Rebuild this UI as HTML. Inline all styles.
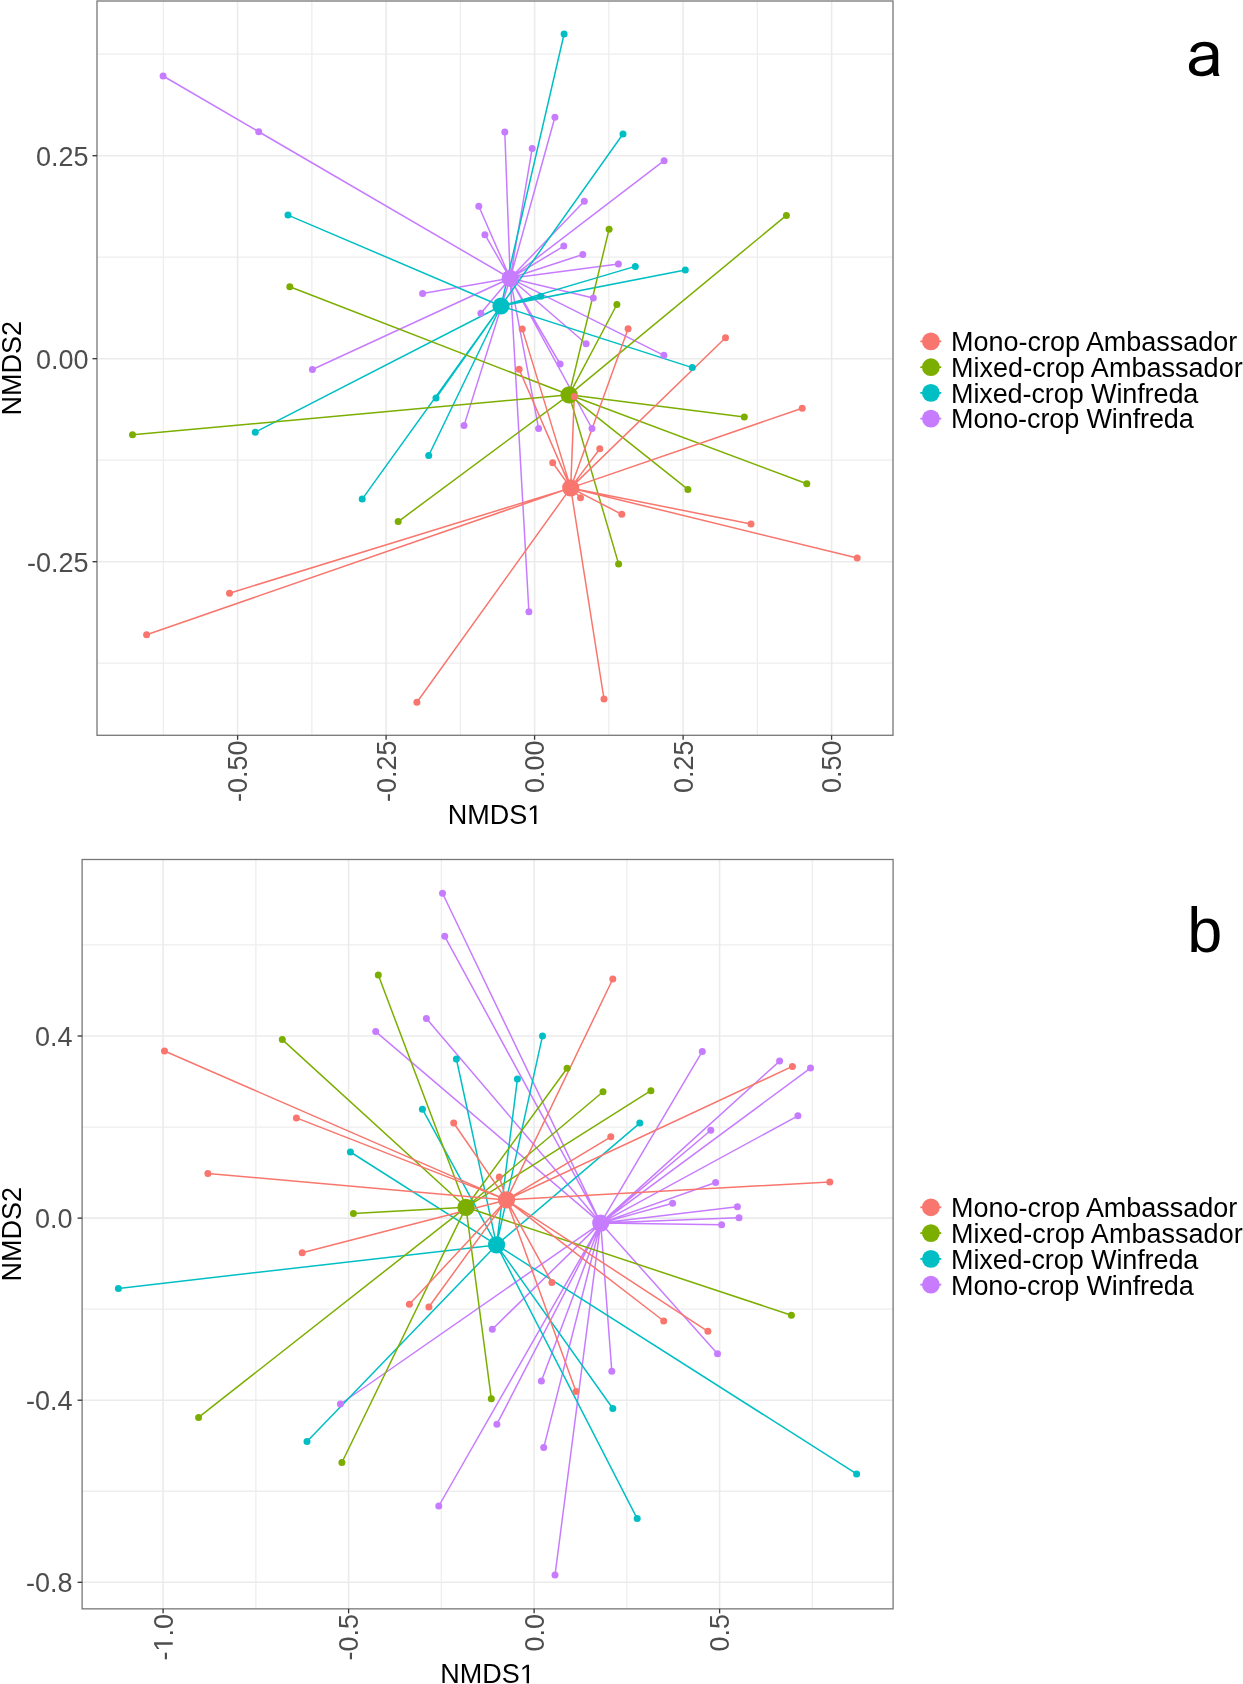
<!DOCTYPE html>
<html><head><meta charset="utf-8"><style>
html,body{margin:0;padding:0;background:#fff;}
svg{display:block;will-change:transform;}
</style></head><body>
<svg width="1243" height="1684" viewBox="0 0 1243 1684">
<rect width="1243" height="1684" fill="#fff"/>
<rect x="97" y="1" width="796" height="734.3" fill="#fff"/>
<line x1="163.35" y1="1" x2="163.35" y2="735.3" stroke="#EEEEEE" stroke-width="1.3"/>
<line x1="311.85" y1="1" x2="311.85" y2="735.3" stroke="#EEEEEE" stroke-width="1.3"/>
<line x1="460.35" y1="1" x2="460.35" y2="735.3" stroke="#EEEEEE" stroke-width="1.3"/>
<line x1="608.85" y1="1" x2="608.85" y2="735.3" stroke="#EEEEEE" stroke-width="1.3"/>
<line x1="757.35" y1="1" x2="757.35" y2="735.3" stroke="#EEEEEE" stroke-width="1.3"/>
<line x1="97" y1="54.2" x2="893" y2="54.2" stroke="#EEEEEE" stroke-width="1.3"/>
<line x1="97" y1="257.2" x2="893" y2="257.2" stroke="#EEEEEE" stroke-width="1.3"/>
<line x1="97" y1="460.2" x2="893" y2="460.2" stroke="#EEEEEE" stroke-width="1.3"/>
<line x1="97" y1="663.2" x2="893" y2="663.2" stroke="#EEEEEE" stroke-width="1.3"/>
<line x1="237.6" y1="1" x2="237.6" y2="735.3" stroke="#EBEBEB" stroke-width="1.6"/>
<line x1="386.1" y1="1" x2="386.1" y2="735.3" stroke="#EBEBEB" stroke-width="1.6"/>
<line x1="534.6" y1="1" x2="534.6" y2="735.3" stroke="#EBEBEB" stroke-width="1.6"/>
<line x1="683.1" y1="1" x2="683.1" y2="735.3" stroke="#EBEBEB" stroke-width="1.6"/>
<line x1="831.6" y1="1" x2="831.6" y2="735.3" stroke="#EBEBEB" stroke-width="1.6"/>
<line x1="97" y1="155.7" x2="893" y2="155.7" stroke="#EBEBEB" stroke-width="1.6"/>
<line x1="97" y1="358.7" x2="893" y2="358.7" stroke="#EBEBEB" stroke-width="1.6"/>
<line x1="97" y1="561.7" x2="893" y2="561.7" stroke="#EBEBEB" stroke-width="1.6"/>
<path d="M510.2 278.3L163.1 76M510.2 278.3L258.7 131.8M510.2 278.3L504.8 132M510.2 278.3L532.2 148.4M510.2 278.3L554.9 117.2M510.2 278.3L478.8 206.2M510.2 278.3L484.9 234.7M510.2 278.3L584.3 201.3M510.2 278.3L563.8 246.1M510.2 278.3L582.8 254.5M510.2 278.3L618.4 264M510.2 278.3L664.1 160.7M510.2 278.3L422.6 293.5M510.2 278.3L480.9 313.3M510.2 278.3L312.4 369.5M510.2 278.3L593.3 297.9M510.2 278.3L586.1 343.8M510.2 278.3L560.1 364M510.2 278.3L663.9 355.3M510.2 278.3L464 425.6M510.2 278.3L538.6 428.4M510.2 278.3L592 428.5M510.2 278.3L528.9 611.7" stroke="#C77CFF" stroke-width="1.5" fill="none"/>
<path d="M501 306L288 215.1M501 306L255.3 432.2M501 306L436 398.1M501 306L428.7 455.5M501 306L362.2 499.1M501 306L564.1 34M501 306L623 134M501 306L635.3 266.4M501 306L685.3 270.1M501 306L540.8 296.2M501 306L692.3 367.6" stroke="#00BFC4" stroke-width="1.5" fill="none"/>
<path d="M569.1 394.8L609.1 229.2M569.1 394.8L786.4 215.4M569.1 394.8L289.8 286.8M569.1 394.8L616.9 304.5M569.1 394.8L132.5 434.8M569.1 394.8L744.3 416.9M569.1 394.8L806.8 483.8M569.1 394.8L687.9 489.4M569.1 394.8L398.2 521.6M569.1 394.8L618.6 563.9" stroke="#7CAE00" stroke-width="1.5" fill="none"/>
<path d="M570.7 487.9L522.2 328.9M570.7 487.9L628.1 328.8M570.7 487.9L519.1 369.2M570.7 487.9L574.3 396.4M570.7 487.9L725.5 337.8M570.7 487.9L802.2 408.2M570.7 487.9L599.8 448.8M570.7 487.9L552.7 462.8M570.7 487.9L580.5 497.7M570.7 487.9L621.8 514.3M570.7 487.9L751 524M570.7 487.9L857.2 558M570.7 487.9L229.5 593.2M570.7 487.9L146.6 634.7M570.7 487.9L416.9 702.3M570.7 487.9L604 699" stroke="#F8766D" stroke-width="1.5" fill="none"/>
<circle cx="510.2" cy="278.3" r="8.6" fill="#C77CFF"/>
<circle cx="163.1" cy="76" r="3.5" fill="#C77CFF"/>
<circle cx="258.7" cy="131.8" r="3.5" fill="#C77CFF"/>
<circle cx="504.8" cy="132" r="3.5" fill="#C77CFF"/>
<circle cx="532.2" cy="148.4" r="3.5" fill="#C77CFF"/>
<circle cx="554.9" cy="117.2" r="3.5" fill="#C77CFF"/>
<circle cx="478.8" cy="206.2" r="3.5" fill="#C77CFF"/>
<circle cx="484.9" cy="234.7" r="3.5" fill="#C77CFF"/>
<circle cx="584.3" cy="201.3" r="3.5" fill="#C77CFF"/>
<circle cx="563.8" cy="246.1" r="3.5" fill="#C77CFF"/>
<circle cx="582.8" cy="254.5" r="3.5" fill="#C77CFF"/>
<circle cx="618.4" cy="264" r="3.5" fill="#C77CFF"/>
<circle cx="664.1" cy="160.7" r="3.5" fill="#C77CFF"/>
<circle cx="422.6" cy="293.5" r="3.5" fill="#C77CFF"/>
<circle cx="480.9" cy="313.3" r="3.5" fill="#C77CFF"/>
<circle cx="312.4" cy="369.5" r="3.5" fill="#C77CFF"/>
<circle cx="593.3" cy="297.9" r="3.5" fill="#C77CFF"/>
<circle cx="586.1" cy="343.8" r="3.5" fill="#C77CFF"/>
<circle cx="560.1" cy="364" r="3.5" fill="#C77CFF"/>
<circle cx="663.9" cy="355.3" r="3.5" fill="#C77CFF"/>
<circle cx="464" cy="425.6" r="3.5" fill="#C77CFF"/>
<circle cx="538.6" cy="428.4" r="3.5" fill="#C77CFF"/>
<circle cx="592" cy="428.5" r="3.5" fill="#C77CFF"/>
<circle cx="528.9" cy="611.7" r="3.5" fill="#C77CFF"/>
<circle cx="501" cy="306" r="8.6" fill="#00BFC4"/>
<circle cx="288" cy="215.1" r="3.5" fill="#00BFC4"/>
<circle cx="255.3" cy="432.2" r="3.5" fill="#00BFC4"/>
<circle cx="436" cy="398.1" r="3.5" fill="#00BFC4"/>
<circle cx="428.7" cy="455.5" r="3.5" fill="#00BFC4"/>
<circle cx="362.2" cy="499.1" r="3.5" fill="#00BFC4"/>
<circle cx="564.1" cy="34" r="3.5" fill="#00BFC4"/>
<circle cx="623" cy="134" r="3.5" fill="#00BFC4"/>
<circle cx="635.3" cy="266.4" r="3.5" fill="#00BFC4"/>
<circle cx="685.3" cy="270.1" r="3.5" fill="#00BFC4"/>
<circle cx="540.8" cy="296.2" r="3.5" fill="#00BFC4"/>
<circle cx="692.3" cy="367.6" r="3.5" fill="#00BFC4"/>
<circle cx="569.1" cy="394.8" r="8.6" fill="#7CAE00"/>
<circle cx="609.1" cy="229.2" r="3.5" fill="#7CAE00"/>
<circle cx="786.4" cy="215.4" r="3.5" fill="#7CAE00"/>
<circle cx="289.8" cy="286.8" r="3.5" fill="#7CAE00"/>
<circle cx="616.9" cy="304.5" r="3.5" fill="#7CAE00"/>
<circle cx="132.5" cy="434.8" r="3.5" fill="#7CAE00"/>
<circle cx="744.3" cy="416.9" r="3.5" fill="#7CAE00"/>
<circle cx="806.8" cy="483.8" r="3.5" fill="#7CAE00"/>
<circle cx="687.9" cy="489.4" r="3.5" fill="#7CAE00"/>
<circle cx="398.2" cy="521.6" r="3.5" fill="#7CAE00"/>
<circle cx="618.6" cy="563.9" r="3.5" fill="#7CAE00"/>
<circle cx="570.7" cy="487.9" r="8.6" fill="#F8766D"/>
<circle cx="522.2" cy="328.9" r="3.5" fill="#F8766D"/>
<circle cx="628.1" cy="328.8" r="3.5" fill="#F8766D"/>
<circle cx="519.1" cy="369.2" r="3.5" fill="#F8766D"/>
<circle cx="574.3" cy="396.4" r="3.5" fill="#F8766D"/>
<circle cx="725.5" cy="337.8" r="3.5" fill="#F8766D"/>
<circle cx="802.2" cy="408.2" r="3.5" fill="#F8766D"/>
<circle cx="599.8" cy="448.8" r="3.5" fill="#F8766D"/>
<circle cx="552.7" cy="462.8" r="3.5" fill="#F8766D"/>
<circle cx="580.5" cy="497.7" r="3.5" fill="#F8766D"/>
<circle cx="621.8" cy="514.3" r="3.5" fill="#F8766D"/>
<circle cx="751" cy="524" r="3.5" fill="#F8766D"/>
<circle cx="857.2" cy="558" r="3.5" fill="#F8766D"/>
<circle cx="229.5" cy="593.2" r="3.5" fill="#F8766D"/>
<circle cx="146.6" cy="634.7" r="3.5" fill="#F8766D"/>
<circle cx="416.9" cy="702.3" r="3.5" fill="#F8766D"/>
<circle cx="604" cy="699" r="3.5" fill="#F8766D"/>
<rect x="97" y="1" width="796" height="734.3" fill="none" stroke="#777" stroke-width="1.3"/>
<line x1="237.6" y1="735.3" x2="237.6" y2="739.8" stroke="#333" stroke-width="1.3"/>
<line x1="386.1" y1="735.3" x2="386.1" y2="739.8" stroke="#333" stroke-width="1.3"/>
<line x1="534.6" y1="735.3" x2="534.6" y2="739.8" stroke="#333" stroke-width="1.3"/>
<line x1="683.1" y1="735.3" x2="683.1" y2="739.8" stroke="#333" stroke-width="1.3"/>
<line x1="831.6" y1="735.3" x2="831.6" y2="739.8" stroke="#333" stroke-width="1.3"/>
<line x1="92.5" y1="155.7" x2="97" y2="155.7" stroke="#333" stroke-width="1.3"/>
<line x1="92.5" y1="358.7" x2="97" y2="358.7" stroke="#333" stroke-width="1.3"/>
<line x1="92.5" y1="561.7" x2="97" y2="561.7" stroke="#333" stroke-width="1.3"/>
<text x="88.6" y="165.8" text-anchor="end" font-size="27" fill="#4D4D4D" font-family="Liberation Sans, sans-serif">0.25</text>
<text x="88.6" y="368.8" text-anchor="end" font-size="27" fill="#4D4D4D" font-family="Liberation Sans, sans-serif">0.00</text>
<text x="88.6" y="571.8" text-anchor="end" font-size="27" fill="#4D4D4D" font-family="Liberation Sans, sans-serif">-0.25</text>
<g transform="translate(247.2,740.5) rotate(-90)"><text text-anchor="end" font-size="27" fill="#4D4D4D" font-family="Liberation Sans, sans-serif">-0.50</text></g>
<g transform="translate(395.7,740.5) rotate(-90)"><text text-anchor="end" font-size="27" fill="#4D4D4D" font-family="Liberation Sans, sans-serif">-0.25</text></g>
<g transform="translate(544.2,740.5) rotate(-90)"><text text-anchor="end" font-size="27" fill="#4D4D4D" font-family="Liberation Sans, sans-serif">0.00</text></g>
<g transform="translate(692.7,740.5) rotate(-90)"><text text-anchor="end" font-size="27" fill="#4D4D4D" font-family="Liberation Sans, sans-serif">0.25</text></g>
<g transform="translate(841.2,740.5) rotate(-90)"><text text-anchor="end" font-size="27" fill="#4D4D4D" font-family="Liberation Sans, sans-serif">0.50</text></g>
<text x="447.74" y="824.1" font-size="27" fill="#000" font-family="Liberation Sans, sans-serif">NMDS</text>
<path transform="translate(527.24,824.1) scale(0.013184,-0.013184)" d="M515 0L515 1237L197 1010L197 1180L530 1409L696 1409L696 0Z" fill="#000"/>
<text transform="translate(20.6,368.15) rotate(-90)" text-anchor="middle" font-size="27" fill="#000" font-family="Liberation Sans, sans-serif">NMDS2</text>
<rect x="82.1" y="859.5" width="811" height="749.35" fill="#fff"/>
<line x1="255.85" y1="859.5" x2="255.85" y2="1608.85" stroke="#EEEEEE" stroke-width="1.3"/>
<line x1="441.35" y1="859.5" x2="441.35" y2="1608.85" stroke="#EEEEEE" stroke-width="1.3"/>
<line x1="626.85" y1="859.5" x2="626.85" y2="1608.85" stroke="#EEEEEE" stroke-width="1.3"/>
<line x1="812.35" y1="859.5" x2="812.35" y2="1608.85" stroke="#EEEEEE" stroke-width="1.3"/>
<line x1="82.1" y1="944.95" x2="893.1" y2="944.95" stroke="#EEEEEE" stroke-width="1.3"/>
<line x1="82.1" y1="1127.05" x2="893.1" y2="1127.05" stroke="#EEEEEE" stroke-width="1.3"/>
<line x1="82.1" y1="1309.15" x2="893.1" y2="1309.15" stroke="#EEEEEE" stroke-width="1.3"/>
<line x1="82.1" y1="1491.25" x2="893.1" y2="1491.25" stroke="#EEEEEE" stroke-width="1.3"/>
<line x1="163.1" y1="859.5" x2="163.1" y2="1608.85" stroke="#EBEBEB" stroke-width="1.6"/>
<line x1="348.6" y1="859.5" x2="348.6" y2="1608.85" stroke="#EBEBEB" stroke-width="1.6"/>
<line x1="534.1" y1="859.5" x2="534.1" y2="1608.85" stroke="#EBEBEB" stroke-width="1.6"/>
<line x1="719.6" y1="859.5" x2="719.6" y2="1608.85" stroke="#EBEBEB" stroke-width="1.6"/>
<line x1="82.1" y1="1036" x2="893.1" y2="1036" stroke="#EBEBEB" stroke-width="1.6"/>
<line x1="82.1" y1="1218.1" x2="893.1" y2="1218.1" stroke="#EBEBEB" stroke-width="1.6"/>
<line x1="82.1" y1="1400.2" x2="893.1" y2="1400.2" stroke="#EBEBEB" stroke-width="1.6"/>
<line x1="82.1" y1="1582.3" x2="893.1" y2="1582.3" stroke="#EBEBEB" stroke-width="1.6"/>
<path d="M600.7 1223.1L442.5 893.3M600.7 1223.1L444.7 936.3M600.7 1223.1L426.4 1018.6M600.7 1223.1L375.7 1031.6M600.7 1223.1L702.3 1051.4M600.7 1223.1L779.6 1061.1M600.7 1223.1L810.5 1068.1M600.7 1223.1L710.8 1130.3M600.7 1223.1L797.9 1115.8M600.7 1223.1L715.6 1182.5M600.7 1223.1L672.6 1203.2M600.7 1223.1L737.4 1206.7M600.7 1223.1L739 1217.7M600.7 1223.1L721.6 1224.8M600.7 1223.1L717.5 1353.8M600.7 1223.1L611.8 1371.3M600.7 1223.1L340.4 1404M600.7 1223.1L492.3 1329.2M600.7 1223.1L541.4 1381M600.7 1223.1L496.9 1424.2M600.7 1223.1L543.7 1447.6M600.7 1223.1L438.8 1506M600.7 1223.1L555 1575.1" stroke="#C77CFF" stroke-width="1.5" fill="none"/>
<path d="M496.55 1244.9L118.4 1288.4M496.55 1244.9L350.4 1152M496.55 1244.9L422.4 1109.2M496.55 1244.9L456.4 1059M496.55 1244.9L517.4 1079.1M496.55 1244.9L542.5 1035.9M496.55 1244.9L639.8 1123.1M496.55 1244.9L307 1441.5M496.55 1244.9L612.8 1408.5M496.55 1244.9L637.2 1518.6M496.55 1244.9L856.6 1473.9" stroke="#00BFC4" stroke-width="1.5" fill="none"/>
<path d="M465.95 1207.3L282.3 1039.6M465.95 1207.3L378.3 975.1M465.95 1207.3L567.1 1068.2M465.95 1207.3L603 1091.8M465.95 1207.3L650.9 1090.7M465.95 1207.3L353.4 1213.5M465.95 1207.3L791.4 1315.2M465.95 1207.3L198.6 1417.4M465.95 1207.3L341.9 1462.5M465.95 1207.3L491.3 1398.7" stroke="#7CAE00" stroke-width="1.5" fill="none"/>
<path d="M506.5 1199.9L164.5 1051M506.5 1199.9L296.4 1117.9M506.5 1199.9L207.9 1173.4M506.5 1199.9L302.2 1252.7M506.5 1199.9L453.7 1123M506.5 1199.9L499.3 1177M506.5 1199.9L612.8 979M506.5 1199.9L792.4 1066.4M506.5 1199.9L610.8 1136.8M506.5 1199.9L829.8 1181.9M506.5 1199.9L663.7 1321M506.5 1199.9L707.9 1331.3M506.5 1199.9L551.9 1282.6M506.5 1199.9L409.4 1304.3M506.5 1199.9L428.9 1307M506.5 1199.9L576 1391.5" stroke="#F8766D" stroke-width="1.5" fill="none"/>
<circle cx="600.7" cy="1223.1" r="8.6" fill="#C77CFF"/>
<circle cx="442.5" cy="893.3" r="3.5" fill="#C77CFF"/>
<circle cx="444.7" cy="936.3" r="3.5" fill="#C77CFF"/>
<circle cx="426.4" cy="1018.6" r="3.5" fill="#C77CFF"/>
<circle cx="375.7" cy="1031.6" r="3.5" fill="#C77CFF"/>
<circle cx="702.3" cy="1051.4" r="3.5" fill="#C77CFF"/>
<circle cx="779.6" cy="1061.1" r="3.5" fill="#C77CFF"/>
<circle cx="810.5" cy="1068.1" r="3.5" fill="#C77CFF"/>
<circle cx="710.8" cy="1130.3" r="3.5" fill="#C77CFF"/>
<circle cx="797.9" cy="1115.8" r="3.5" fill="#C77CFF"/>
<circle cx="715.6" cy="1182.5" r="3.5" fill="#C77CFF"/>
<circle cx="672.6" cy="1203.2" r="3.5" fill="#C77CFF"/>
<circle cx="737.4" cy="1206.7" r="3.5" fill="#C77CFF"/>
<circle cx="739" cy="1217.7" r="3.5" fill="#C77CFF"/>
<circle cx="721.6" cy="1224.8" r="3.5" fill="#C77CFF"/>
<circle cx="717.5" cy="1353.8" r="3.5" fill="#C77CFF"/>
<circle cx="611.8" cy="1371.3" r="3.5" fill="#C77CFF"/>
<circle cx="340.4" cy="1404" r="3.5" fill="#C77CFF"/>
<circle cx="492.3" cy="1329.2" r="3.5" fill="#C77CFF"/>
<circle cx="541.4" cy="1381" r="3.5" fill="#C77CFF"/>
<circle cx="496.9" cy="1424.2" r="3.5" fill="#C77CFF"/>
<circle cx="543.7" cy="1447.6" r="3.5" fill="#C77CFF"/>
<circle cx="438.8" cy="1506" r="3.5" fill="#C77CFF"/>
<circle cx="555" cy="1575.1" r="3.5" fill="#C77CFF"/>
<circle cx="496.55" cy="1244.9" r="8.6" fill="#00BFC4"/>
<circle cx="118.4" cy="1288.4" r="3.5" fill="#00BFC4"/>
<circle cx="350.4" cy="1152" r="3.5" fill="#00BFC4"/>
<circle cx="422.4" cy="1109.2" r="3.5" fill="#00BFC4"/>
<circle cx="456.4" cy="1059" r="3.5" fill="#00BFC4"/>
<circle cx="517.4" cy="1079.1" r="3.5" fill="#00BFC4"/>
<circle cx="542.5" cy="1035.9" r="3.5" fill="#00BFC4"/>
<circle cx="639.8" cy="1123.1" r="3.5" fill="#00BFC4"/>
<circle cx="307" cy="1441.5" r="3.5" fill="#00BFC4"/>
<circle cx="612.8" cy="1408.5" r="3.5" fill="#00BFC4"/>
<circle cx="637.2" cy="1518.6" r="3.5" fill="#00BFC4"/>
<circle cx="856.6" cy="1473.9" r="3.5" fill="#00BFC4"/>
<circle cx="465.95" cy="1207.3" r="8.6" fill="#7CAE00"/>
<circle cx="282.3" cy="1039.6" r="3.5" fill="#7CAE00"/>
<circle cx="378.3" cy="975.1" r="3.5" fill="#7CAE00"/>
<circle cx="567.1" cy="1068.2" r="3.5" fill="#7CAE00"/>
<circle cx="603" cy="1091.8" r="3.5" fill="#7CAE00"/>
<circle cx="650.9" cy="1090.7" r="3.5" fill="#7CAE00"/>
<circle cx="353.4" cy="1213.5" r="3.5" fill="#7CAE00"/>
<circle cx="791.4" cy="1315.2" r="3.5" fill="#7CAE00"/>
<circle cx="198.6" cy="1417.4" r="3.5" fill="#7CAE00"/>
<circle cx="341.9" cy="1462.5" r="3.5" fill="#7CAE00"/>
<circle cx="491.3" cy="1398.7" r="3.5" fill="#7CAE00"/>
<circle cx="506.5" cy="1199.9" r="8.6" fill="#F8766D"/>
<circle cx="164.5" cy="1051" r="3.5" fill="#F8766D"/>
<circle cx="296.4" cy="1117.9" r="3.5" fill="#F8766D"/>
<circle cx="207.9" cy="1173.4" r="3.5" fill="#F8766D"/>
<circle cx="302.2" cy="1252.7" r="3.5" fill="#F8766D"/>
<circle cx="453.7" cy="1123" r="3.5" fill="#F8766D"/>
<circle cx="499.3" cy="1177" r="3.5" fill="#F8766D"/>
<circle cx="612.8" cy="979" r="3.5" fill="#F8766D"/>
<circle cx="792.4" cy="1066.4" r="3.5" fill="#F8766D"/>
<circle cx="610.8" cy="1136.8" r="3.5" fill="#F8766D"/>
<circle cx="829.8" cy="1181.9" r="3.5" fill="#F8766D"/>
<circle cx="663.7" cy="1321" r="3.5" fill="#F8766D"/>
<circle cx="707.9" cy="1331.3" r="3.5" fill="#F8766D"/>
<circle cx="551.9" cy="1282.6" r="3.5" fill="#F8766D"/>
<circle cx="409.4" cy="1304.3" r="3.5" fill="#F8766D"/>
<circle cx="428.9" cy="1307" r="3.5" fill="#F8766D"/>
<circle cx="576" cy="1391.5" r="3.5" fill="#F8766D"/>
<rect x="82.1" y="859.5" width="811" height="749.35" fill="none" stroke="#777" stroke-width="1.3"/>
<line x1="163.1" y1="1608.85" x2="163.1" y2="1613.35" stroke="#333" stroke-width="1.3"/>
<line x1="348.6" y1="1608.85" x2="348.6" y2="1613.35" stroke="#333" stroke-width="1.3"/>
<line x1="534.1" y1="1608.85" x2="534.1" y2="1613.35" stroke="#333" stroke-width="1.3"/>
<line x1="719.6" y1="1608.85" x2="719.6" y2="1613.35" stroke="#333" stroke-width="1.3"/>
<line x1="77.6" y1="1036" x2="82.1" y2="1036" stroke="#333" stroke-width="1.3"/>
<line x1="77.6" y1="1218.1" x2="82.1" y2="1218.1" stroke="#333" stroke-width="1.3"/>
<line x1="77.6" y1="1400.2" x2="82.1" y2="1400.2" stroke="#333" stroke-width="1.3"/>
<line x1="77.6" y1="1582.3" x2="82.1" y2="1582.3" stroke="#333" stroke-width="1.3"/>
<text x="72.6" y="1046.1" text-anchor="end" font-size="27" fill="#4D4D4D" font-family="Liberation Sans, sans-serif">0.4</text>
<text x="72.6" y="1228.2" text-anchor="end" font-size="27" fill="#4D4D4D" font-family="Liberation Sans, sans-serif">0.0</text>
<text x="72.6" y="1410.3" text-anchor="end" font-size="27" fill="#4D4D4D" font-family="Liberation Sans, sans-serif">-0.4</text>
<text x="72.6" y="1592.4" text-anchor="end" font-size="27" fill="#4D4D4D" font-family="Liberation Sans, sans-serif">-0.8</text>
<g transform="translate(172.7,1614) rotate(-90)"><text x="-46.52" font-size="27" fill="#4D4D4D" font-family="Liberation Sans, sans-serif">-</text><path transform="translate(-37.53,0) scale(0.013184,-0.013184)" d="M515 0L515 1237L197 1010L197 1180L530 1409L696 1409L696 0Z" fill="#4D4D4D"/><text x="-22.52" font-size="27" fill="#4D4D4D" font-family="Liberation Sans, sans-serif">.0</text></g>
<g transform="translate(358.2,1614) rotate(-90)"><text text-anchor="end" font-size="27" fill="#4D4D4D" font-family="Liberation Sans, sans-serif">-0.5</text></g>
<g transform="translate(543.7,1614) rotate(-90)"><text text-anchor="end" font-size="27" fill="#4D4D4D" font-family="Liberation Sans, sans-serif">0.0</text></g>
<g transform="translate(729.2,1614) rotate(-90)"><text text-anchor="end" font-size="27" fill="#4D4D4D" font-family="Liberation Sans, sans-serif">0.5</text></g>
<text x="440.34" y="1683.3" font-size="27" fill="#000" font-family="Liberation Sans, sans-serif">NMDS</text>
<path transform="translate(519.84,1683.3) scale(0.013184,-0.013184)" d="M515 0L515 1237L197 1010L197 1180L530 1409L696 1409L696 0Z" fill="#000"/>
<text transform="translate(20.6,1234.17) rotate(-90)" text-anchor="middle" font-size="27" fill="#000" font-family="Liberation Sans, sans-serif">NMDS2</text>
<line x1="920.3" y1="341.4" x2="941.3" y2="341.4" stroke="#F8766D" stroke-width="1.8"/>
<circle cx="930.9" cy="341.4" r="8.9" fill="#F8766D"/>
<text x="951.0" y="351.2" font-size="27" textLength="286.3" lengthAdjust="spacing" fill="#000" font-family="Liberation Sans, sans-serif">Mono-crop Ambassador</text>
<line x1="920.3" y1="367.2" x2="941.3" y2="367.2" stroke="#7CAE00" stroke-width="1.8"/>
<circle cx="930.9" cy="367.2" r="8.9" fill="#7CAE00"/>
<text x="951.0" y="377" font-size="27" textLength="291.7" lengthAdjust="spacing" fill="#000" font-family="Liberation Sans, sans-serif">Mixed-crop Ambassador</text>
<line x1="920.3" y1="392.9" x2="941.3" y2="392.9" stroke="#00BFC4" stroke-width="1.8"/>
<circle cx="930.9" cy="392.9" r="8.9" fill="#00BFC4"/>
<text x="951.0" y="402.7" font-size="27" textLength="247.4" lengthAdjust="spacing" fill="#000" font-family="Liberation Sans, sans-serif">Mixed-crop Winfreda</text>
<line x1="920.3" y1="418.6" x2="941.3" y2="418.6" stroke="#C77CFF" stroke-width="1.8"/>
<circle cx="930.9" cy="418.6" r="8.9" fill="#C77CFF"/>
<text x="951.0" y="428.4" font-size="27" textLength="242.8" lengthAdjust="spacing" fill="#000" font-family="Liberation Sans, sans-serif">Mono-crop Winfreda</text>
<line x1="920.3" y1="1207.3" x2="941.3" y2="1207.3" stroke="#F8766D" stroke-width="1.8"/>
<circle cx="930.9" cy="1207.3" r="8.9" fill="#F8766D"/>
<text x="951.0" y="1217.1" font-size="27" textLength="286.3" lengthAdjust="spacing" fill="#000" font-family="Liberation Sans, sans-serif">Mono-crop Ambassador</text>
<line x1="920.3" y1="1233.1" x2="941.3" y2="1233.1" stroke="#7CAE00" stroke-width="1.8"/>
<circle cx="930.9" cy="1233.1" r="8.9" fill="#7CAE00"/>
<text x="951.0" y="1242.9" font-size="27" textLength="291.7" lengthAdjust="spacing" fill="#000" font-family="Liberation Sans, sans-serif">Mixed-crop Ambassador</text>
<line x1="920.3" y1="1258.9" x2="941.3" y2="1258.9" stroke="#00BFC4" stroke-width="1.8"/>
<circle cx="930.9" cy="1258.9" r="8.9" fill="#00BFC4"/>
<text x="951.0" y="1268.7" font-size="27" textLength="247.4" lengthAdjust="spacing" fill="#000" font-family="Liberation Sans, sans-serif">Mixed-crop Winfreda</text>
<line x1="920.3" y1="1284.7" x2="941.3" y2="1284.7" stroke="#C77CFF" stroke-width="1.8"/>
<circle cx="930.9" cy="1284.7" r="8.9" fill="#C77CFF"/>
<text x="951.0" y="1294.5" font-size="27" textLength="242.8" lengthAdjust="spacing" fill="#000" font-family="Liberation Sans, sans-serif">Mono-crop Winfreda</text>
<path fill-rule="evenodd" fill="#000" d="M1190.3 51.5C1191.2 45.5 1196.5 41.7 1204.4 41.7C1213.5 41.7 1218.2 46 1218.2 52.5L1218.2 71C1218.2 73 1218.8 74.6 1219.6 75.9L1213.7 75.9C1213.2 74.8 1212.9 73.5 1212.8 72.2C1210.8 74.6 1206.2 76.2 1200.8 76.2C1193.6 76.2 1188.9 72.5 1188.9 66.8C1188.9 59.5 1194.5 56.9 1201.5 56.2L1212.4 54.8L1212.4 53.3C1212.4 49 1209.2 46.2 1204.1 46.2C1199.2 46.2 1196.3 48.6 1195.6 52.5Z M1212.4 59L1202.5 60.3C1197 61 1194.8 63.2 1194.8 66.6C1194.8 69.8 1197.3 71.8 1201 71.8C1207.5 71.8 1212.4 67.8 1212.4 62Z"/>
<text x="1187.2" y="952.2" font-size="63" fill="#000" font-family="Liberation Sans, sans-serif">b</text>
</svg>
</body></html>
